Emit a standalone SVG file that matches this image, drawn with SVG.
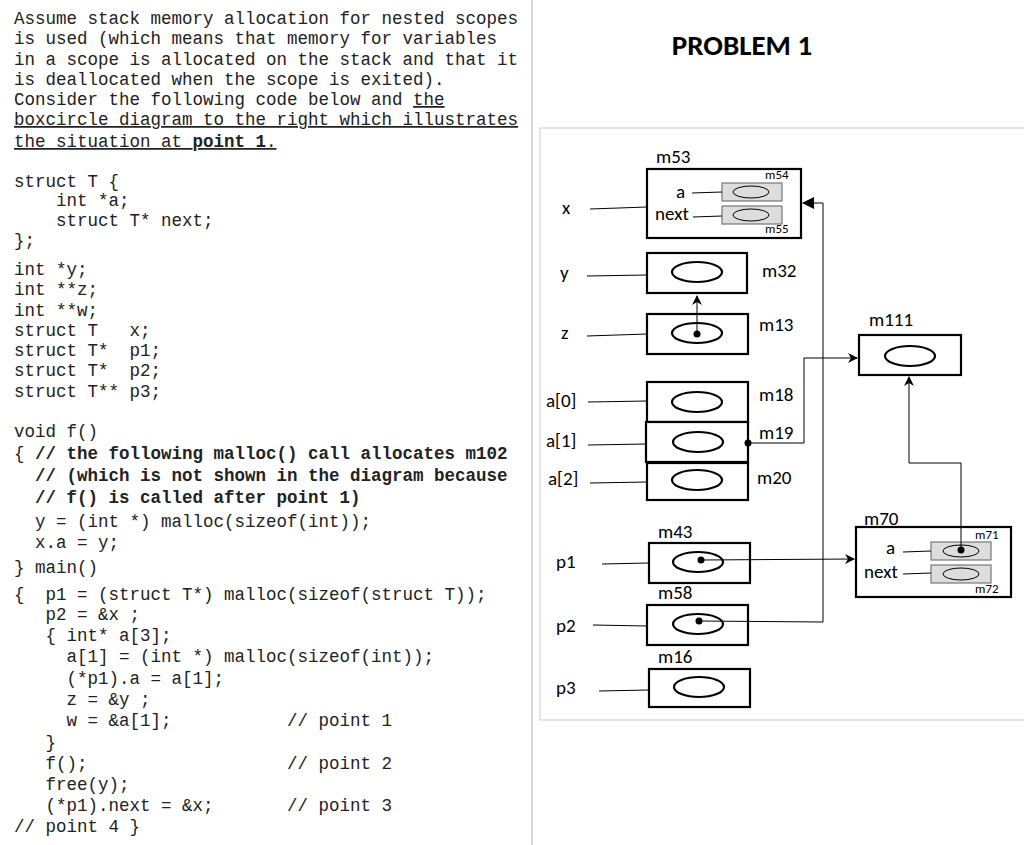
<svg xmlns="http://www.w3.org/2000/svg" width="1024" height="845" viewBox="0 0 1024 845" xml:space="preserve">
<style>
.code{font-family:"Liberation Mono",monospace;font-size:17.5px;fill:#222;white-space:pre}
.b{font-weight:bold}
.lbl{font-family:Carlito,Calibri,"Liberation Sans",sans-serif;font-size:19px;fill:#000}
.sm{font-family:Carlito,Calibri,"Liberation Sans",sans-serif;font-size:13px;fill:#000}
.box{fill:#fff;stroke:#000;stroke-width:2.2}
.gbox{fill:#ddd;stroke:#777;stroke-width:1.2}
.ov{fill:none;stroke:#000;stroke-width:2.2}
.ovt{fill:none;stroke:#000;stroke-width:1}
.ln{stroke:#000;stroke-width:1;fill:none}
</style>
<defs>
<marker id="ah" markerWidth="10" markerHeight="10" refX="9" refY="5" orient="auto" markerUnits="userSpaceOnUse"><path d="M0,0 L10,5 L0,10 L3,5 Z" fill="#000"/></marker>
<marker id="af" markerWidth="12" markerHeight="12" refX="11" refY="6" orient="auto" markerUnits="userSpaceOnUse"><path d="M0,0 L12,6 L0,12 Z" fill="#000"/></marker>
</defs>
<rect width="1024" height="845" fill="#fff"/>
<line x1="532" y1="0" x2="532" y2="845" stroke="#ccc" stroke-width="1.5"/>
<rect x="540" y="128" width="490" height="592" fill="none" stroke="#ddd" stroke-width="1.5"/>
<text x="742" y="55" text-anchor="middle" font-family="Carlito,Calibri,'Open Sans',sans-serif" font-weight="bold" font-size="29">PROBLEM 1</text>
<g id="text" class="code">
<text class="code" x="14" y="24">Assume stack memory allocation for nested scopes</text>
<text class="code" x="14" y="44">is used (which means that memory for variables</text>
<text class="code" x="14" y="65">in a scope is allocated on the stack and that it</text>
<text class="code" x="14" y="85">is deallocated when the scope is exited).</text>
<text class="code" x="14" y="105">Consider the following code below and <tspan text-decoration="underline">the</tspan></text>
<text class="code" x="14" y="125" text-decoration="underline">boxcircle diagram to the right which illustrates</text>
<text class="code" x="14" y="147" text-decoration="underline">the situation at <tspan class="b">point 1</tspan>.</text>
<text class="code" x="14" y="187">struct T {</text>
<text class="code" x="14" y="206">    int *a;</text>
<text class="code" x="14" y="226">    struct T* next;</text>
<text class="code" x="14" y="246">};</text>
<text class="code" x="14" y="275">int *y;</text>
<text class="code" x="14" y="295">int **z;</text>
<text class="code" x="14" y="316">int **w;</text>
<text class="code" x="14" y="336">struct T   x;</text>
<text class="code" x="14" y="356">struct T*  p1;</text>
<text class="code" x="14" y="376">struct T*  p2;</text>
<text class="code" x="14" y="397">struct T** p3;</text>
<text class="code" x="14" y="437">void f()</text>
<text class="code" x="14" y="459">{ <tspan class="b">// the following malloc() call allocates m102</tspan></text>
<text class="code b" x="14" y="481">  // (which is not shown in the diagram because</text>
<text class="code b" x="14" y="503">  // f() is called after point 1)</text>
<text class="code" x="14" y="527">  y = (int *) malloc(sizeof(int));</text>
<text class="code" x="14" y="548">  x.a = y;</text>
<text class="code" x="14" y="573">} main()</text>
<text class="code" x="14" y="600">{  p1 = (struct T*) malloc(sizeof(struct T));</text>
<text class="code" x="14" y="620">   p2 = &amp;x ;</text>
<text class="code" x="14" y="641">   { int* a[3];</text>
<text class="code" x="14" y="662">     a[1] = (int *) malloc(sizeof(int));</text>
<text class="code" x="14" y="684">     (*p1).a = a[1];</text>
<text class="code" x="14" y="705">     z = &amp;y ;</text>
<text class="code" x="14" y="726">     w = &amp;a[1];           // point 1</text>
<text class="code" x="14" y="748">   }</text>
<text class="code" x="14" y="769">   f();                   // point 2</text>
<text class="code" x="14" y="790">   free(y);</text>
<text class="code" x="14" y="811">   (*p1).next = &amp;x;       // point 3</text>
<text class="code" x="14" y="832">// point 4 }</text>
</g>
<g class="lbl">
<text x="562" y="214">x</text><text x="560" y="279">y</text><text x="561" y="339">z</text>
<text x="546" y="407">a[0]</text><text x="546" y="447">a[1]</text><text x="548" y="485">a[2]</text>
<text x="556" y="568">p1</text><text x="556" y="632">p2</text><text x="556" y="694">p3</text>
</g>
<g id="m53"><rect class="box" x="647" y="169" width="154" height="69"/>
<text class="lbl" x="656" y="163">m53</text>
<rect class="gbox" x="722" y="183" width="60" height="18"/><ellipse class="ovt" cx="751" cy="192" rx="18" ry="6"/>
<rect class="gbox" x="722" y="206" width="60" height="18"/><ellipse class="ovt" cx="751" cy="215" rx="18" ry="6"/>
<text class="lbl" x="676" y="198">a</text><text class="lbl" x="655" y="220">next</text>
<text class="sm" x="765" y="179">m54</text><text class="sm" x="765" y="233">m55</text></g>
<g id="m32"><rect class="box" x="647" y="253" width="100" height="40"/><ellipse class="ov" cx="697" cy="272" rx="25" ry="10"/><text class="lbl" x="762" y="277">m32</text></g>
<g id="m13"><rect class="box" x="647" y="314" width="101" height="40"/><ellipse class="ov" cx="697" cy="333" rx="25" ry="10"/><text class="lbl" x="759" y="331">m13</text></g>
<g id="m111"><rect class="box" x="859" y="335" width="102" height="40"/><ellipse class="ov" cx="910" cy="356" rx="25" ry="10"/><text class="lbl" x="869" y="326">m111</text></g>
<g id="m18"><rect class="box" x="647" y="382" width="101" height="40"/><ellipse class="ov" cx="697" cy="402" rx="25" ry="10"/><text class="lbl" x="759" y="401">m18</text></g>
<g id="m19"><rect class="box" x="646" y="422" width="102" height="40"/><ellipse class="ov" cx="698" cy="442" rx="25" ry="10"/><text class="lbl" x="759" y="439">m19</text></g>
<g id="m20"><rect class="box" x="647" y="463" width="101" height="37"/><ellipse class="ov" cx="697" cy="480" rx="25" ry="10"/><text class="lbl" x="757" y="484">m20</text></g>
<g id="m43"><rect class="box" x="649" y="543" width="101" height="40"/><ellipse class="ov" cx="698" cy="562" rx="25" ry="10"/><text class="lbl" x="658" y="538">m43</text></g>
<g id="m58"><rect class="box" x="647" y="605" width="101" height="40"/><ellipse class="ov" cx="698" cy="624" rx="25" ry="10"/><text class="lbl" x="658" y="599">m58</text></g>
<g id="m16"><rect class="box" x="649" y="669" width="101" height="38"/><ellipse class="ov" cx="699" cy="687" rx="25" ry="10"/><text class="lbl" x="658" y="663">m16</text></g>
<g id="m70"><rect class="box" x="856" y="527" width="155" height="70"/>
<text class="lbl" x="864" y="525">m70</text>
<rect class="gbox" x="931" y="542" width="60" height="18"/><ellipse class="ovt" cx="961" cy="551" rx="18" ry="6"/>
<rect class="gbox" x="931" y="565" width="60" height="18"/><ellipse class="ovt" cx="961" cy="574" rx="18" ry="6"/>
<text class="lbl" x="886" y="554">a</text><text class="lbl" x="864" y="578">next</text>
<text class="sm" x="975" y="539">m71</text><text class="sm" x="975" y="593">m72</text></g>
<g id="connectors">
<line class="ln" x1="590" y1="209" x2="647" y2="207"/>
<line class="ln" x1="587" y1="276" x2="647" y2="275"/>
<line class="ln" x1="587" y1="336" x2="647" y2="334"/>
<line class="ln" x1="588" y1="402" x2="647" y2="401"/>
<line class="ln" x1="588" y1="445" x2="646" y2="444"/>
<line class="ln" x1="590" y1="483" x2="647" y2="482"/>
<line class="ln" x1="602" y1="564" x2="649" y2="563"/>
<line class="ln" x1="593" y1="625" x2="647" y2="626"/>
<line class="ln" x1="599" y1="691" x2="649" y2="690"/>
<line class="ln" x1="692" y1="193" x2="722" y2="192"/>
<line class="ln" x1="693" y1="217" x2="722" y2="216"/>
<line class="ln" x1="903" y1="552" x2="931" y2="551"/>
<line class="ln" x1="903" y1="574" x2="931" y2="573"/>
<line class="ln" x1="697" y1="334" x2="697" y2="296" marker-end="url(#ah)"/>
<polyline class="ln" points="748,443 804,443 804,358 857,358" marker-end="url(#ah)"/>
<polyline class="ln" points="699,621 823,622 823,203 803,203" marker-end="url(#af)"/>
<line class="ln" x1="701" y1="560" x2="854" y2="559" marker-end="url(#ah)"/>
<polyline class="ln" points="961,550 961,463 909,463 909,377" marker-end="url(#ah)"/>
<circle cx="697" cy="334" r="3.5"/>
<circle cx="748" cy="443" r="3.5"/>
<circle cx="701" cy="560" r="3.5"/>
<circle cx="699" cy="621" r="3.5"/>
<circle cx="961" cy="550" r="3.5"/>
</g>
</svg>
